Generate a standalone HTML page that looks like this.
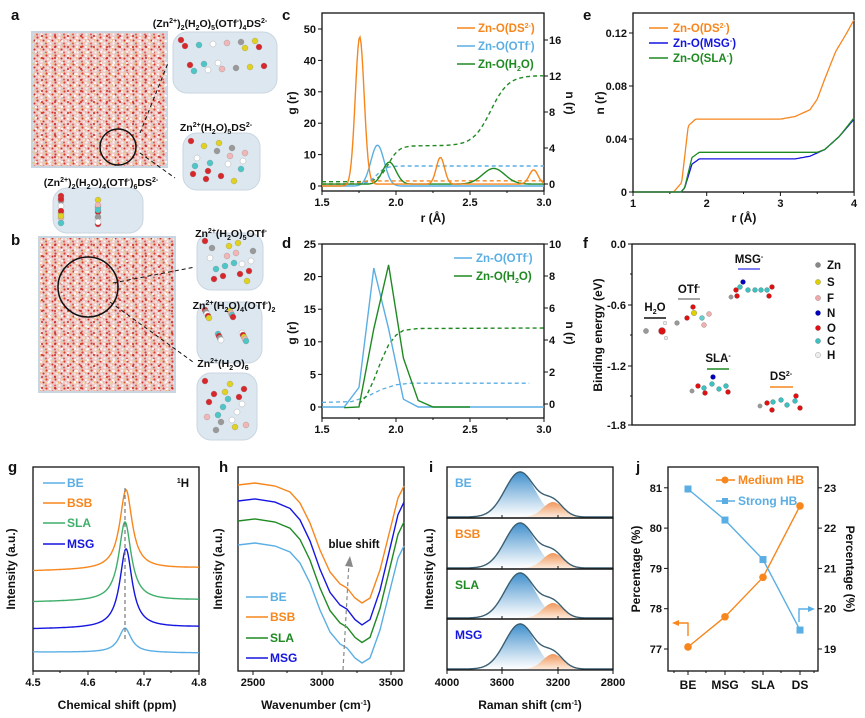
<!DOCTYPE html>
<html><head><meta charset="utf-8">
<style>
html,body{margin:0;padding:0;background:#fff;}
svg{display:block;font-family:"Liberation Sans",Arial,sans-serif;font-weight:bold;}
</style></head>
<body>
<svg id="s" width="865" height="718" viewBox="0 0 865 718" xmlns="http://www.w3.org/2000/svg">
<defs>
<pattern id="md" width="9" height="9" patternUnits="userSpaceOnUse">
<rect width="9" height="9" fill="#eec9c5"/>
<circle cx="1.5" cy="1.5" r="1.1" fill="#d83a36"/><circle cx="5" cy="2" r="1" fill="#fff"/>
<circle cx="7.5" cy="4.5" r="1" fill="#d0302c"/><circle cx="3" cy="5" r="0.9" fill="#f8f4f2"/>
<circle cx="1" cy="7.5" r="1" fill="#e25550"/><circle cx="5.5" cy="7.5" r="1.1" fill="#fbf6f4"/>
<circle cx="8" cy="1" r="0.6" fill="#e8c23a"/><circle cx="4.5" cy="4" r="0.5" fill="#f0a020"/>
<circle cx="8" cy="8" r="0.6" fill="#8cc"/>
</pattern>
<pattern id="md2" width="13" height="11" patternUnits="userSpaceOnUse">
<circle cx="3" cy="3" r="1.1" fill="#c9201f" opacity="0.8"/><circle cx="10" cy="8" r="1" fill="#fff"/><circle cx="7" cy="9" r="0.6" fill="#e0c020"/>
</pattern>
<linearGradient id="gb" x1="0" y1="0" x2="0" y2="1"><stop offset="0" stop-color="#3f8fcc"/><stop offset="1" stop-color="#ffffff" stop-opacity="0.9"/></linearGradient>
<linearGradient id="go" x1="0" y1="0" x2="0" y2="1"><stop offset="0" stop-color="#f0975a"/><stop offset="1" stop-color="#fde9da"/></linearGradient>
</defs>
<g id="root"></g>
</svg>
<script>
var R=document.getElementById('root'),H='';
function T(x,y,t,o){o=o||{};H+='<text x="'+x+'" y="'+y+'" font-size="'+(o.s||11)+'" fill="'+(o.c||'#111')+'" text-anchor="'+(o.a||'start')+'"'+(o.r?' transform="rotate('+o.r+' '+x+' '+y+')"':'')+'>'+t+'</text>';}
function L(x1,y1,x2,y2,c,w,d){H+='<line x1="'+x1+'" y1="'+y1+'" x2="'+x2+'" y2="'+y2+'" stroke="'+(c||'#111')+'" stroke-width="'+(w||1)+'"'+(d?' stroke-dasharray="'+d+'"':'')+'/>';}
function P(d,c,w,da,f){H+='<path d="'+d+'" fill="'+(f||'none')+'" stroke="'+(c||'none')+'" stroke-width="'+(w||1.3)+'"'+(da?' stroke-dasharray="'+da+'"':'')+'/>';}
function F(fn,x0,x1,st){var d='';for(var x=x0;x<=x1+1e-9;x+=st){d+=(d?'L':'M')+x.toFixed(1)+','+fn(x).toFixed(1);}return d;}
function PL(pts){return pts.map(function(p,i){return (i?'L':'M')+p[0].toFixed(1)+','+p[1].toFixed(1)}).join('');}
function box(x0,y0,x1,y1){H+='<rect x="'+x0+'" y="'+y0+'" width="'+(x1-x0)+'" height="'+(y1-y0)+'" fill="none" stroke="#111" stroke-width="1.3"/>';}
function G(x,m,s){return Math.exp(-(x-m)*(x-m)/(2*s*s));}
function S(x,m,w){return 1/(1+Math.exp(-(x-m)/w));}
var OR='#f7861d',LB='#5aaee3',GR='#1f8a22',BL='#1515e0',SG='#3fae6a';

/* ---------- a / b ---------- */
T(11,20,'a',{s:15});T(11,245,'b',{s:15});
H+='<rect x="32" y="32" width="135" height="135" fill="url(#md)" stroke="#c8d6e2" stroke-width="2"/><rect x="32" y="32" width="135" height="135" fill="url(#md2)"/>';
H+='<rect x="39" y="237" width="136" height="155" fill="url(#md)" stroke="#c8d6e2" stroke-width="2"/><rect x="39" y="237" width="136" height="155" fill="url(#md2)"/>';
H+='<circle cx="118" cy="147" r="18" fill="none" stroke="#111" stroke-width="1.5"/>';
H+='<circle cx="88" cy="287" r="30" fill="none" stroke="#111" stroke-width="1.5"/>';
L(140,133,168,63,'#111',1,'4,3');L(140,153,175,178,'#111',1,'4,3');
L(113,283,195,267,'#111',1,'4,3');L(110,302,193,362,'#111',1,'4,3');
function blob(x0,y0,x1,y1){H+='<rect x="'+x0+'" y="'+y0+'" width="'+(x1-x0)+'" height="'+(y1-y0)+'" rx="14" fill="#dde7ef" stroke="#c9d6e0"/>';
 var cols=['#d8262a','#fff','#e0d21e','#4cc6c6','#999','#d8262a','#f2b6b6'];
 for(var i=0;i<18;i++){var cx=x0+8+((i*37)%(x1-x0-16)),cy=y0+8+((i*23)%(y1-y0-16));H+='<circle cx="'+cx+'" cy="'+cy+'" r="3" fill="'+cols[i%7]+'" stroke="#888" stroke-width="0.3"/>';}}
blob(173,32,277,93);blob(183,133,260,190);blob(53,188,143,233);blob(197,233,263,290);blob(197,302,262,363);blob(197,373,257,440);
T(210,27,'(Zn<tspan font-size="7" dy="-4">2+</tspan><tspan dy="4">)</tspan><tspan font-size="7" dy="3">2</tspan><tspan dy="-3">(H</tspan><tspan font-size="7" dy="3">2</tspan><tspan dy="-3">O)</tspan><tspan font-size="7" dy="3">5</tspan><tspan dy="-3">(OTf</tspan><tspan font-size="7" dy="-4">-</tspan><tspan dy="4">)</tspan><tspan font-size="7" dy="3">4</tspan><tspan dy="-3">DS</tspan><tspan font-size="7" dy="-4">2-</tspan>',{a:'middle',s:10.5});
T(216,131,'Zn<tspan font-size="7" dy="-4">2+</tspan><tspan dy="4">(H</tspan><tspan font-size="7" dy="3">2</tspan><tspan dy="-3">O)</tspan><tspan font-size="7" dy="3">5</tspan><tspan dy="-3">DS</tspan><tspan font-size="7" dy="-4">2-</tspan>',{a:'middle',s:10.5});
T(101,186,'(Zn<tspan font-size="7" dy="-4">2+</tspan><tspan dy="4">)</tspan><tspan font-size="7" dy="3">2</tspan><tspan dy="-3">(H</tspan><tspan font-size="7" dy="3">2</tspan><tspan dy="-3">O)</tspan><tspan font-size="7" dy="3">4</tspan><tspan dy="-3">(OTf</tspan><tspan font-size="7" dy="-4">-</tspan><tspan dy="4">)</tspan><tspan font-size="7" dy="3">6</tspan><tspan dy="-3">DS</tspan><tspan font-size="7" dy="-4">2-</tspan>',{a:'middle',s:10.5});
T(231,237,'Zn<tspan font-size="7" dy="-4">2+</tspan><tspan dy="4">(H</tspan><tspan font-size="7" dy="3">2</tspan><tspan dy="-3">O)</tspan><tspan font-size="7" dy="3">5</tspan><tspan dy="-3">OTf</tspan><tspan font-size="7" dy="-4">-</tspan>',{a:'middle',s:10.5});
T(234,309,'Zn<tspan font-size="7" dy="-4">2+</tspan><tspan dy="4">(H</tspan><tspan font-size="7" dy="3">2</tspan><tspan dy="-3">O)</tspan><tspan font-size="7" dy="3">4</tspan><tspan dy="-3">(OTf</tspan><tspan font-size="7" dy="-4">-</tspan><tspan dy="4">)</tspan><tspan font-size="7" dy="3">2</tspan>',{a:'middle',s:10.5});
T(223,367,'Zn<tspan font-size="7" dy="-4">2+</tspan><tspan dy="4">(H</tspan><tspan font-size="7" dy="3">2</tspan><tspan dy="-3">O)</tspan><tspan font-size="7" dy="3">6</tspan>',{a:'middle',s:10.5});

/* ---------- c ---------- */
T(282,20,'c',{s:15});
var cx=function(r){return 322+(r-1.5)*148},cg=function(g){return 186-g*3.14},cn=function(n){return 184-n*9};
box(322,13,544,191);
[1.5,2,2.5,3].forEach(function(r){L(cx(r),191,cx(r),195);T(cx(r),206,r.toFixed(1),{a:'middle'});});
[1.75,2.25,2.75].forEach(function(r){L(cx(r),191,cx(r),193);});
[0,10,20,30,40,50].forEach(function(g){L(318,cg(g),322,cg(g));T(316,cg(g)+4,g,{a:'end'});});
[0,4,8,12,16].forEach(function(n){L(544,cn(n),548,cn(n));T(549,cn(n)+4,n);});
T(296,103,'g (r)',{r:-90,a:'middle',s:12});T(566,103,'n (r)',{r:90,a:'middle',s:12});T(433,222,'r (Å)',{a:'middle',s:12});
P(F(function(x){var r=1.5+(x-322)/148;return cn(0.25+4*S(r,1.95,0.035)+7.8*S(r,2.64,0.06));},322,544,1.5),GR,1.4,'4,3');
P(F(function(x){var r=1.5+(x-322)/148;return cn(2*S(r,1.87,0.03));},322,544,1.5),LB,1.4,'4,3');
P(F(function(x){var r=1.5+(x-322)/148;return cn(0.35*S(r,1.75,0.02));},322,544,1.5),OR,1.4,'4,3');
P(F(function(x){var r=1.5+(x-322)/148;return cg(13*G(r,1.875,0.045));},322,544,1),LB,1.4);
P(F(function(x){var r=1.5+(x-322)/148;return cg(0.6+7*G(r,1.955,0.045)+5*G(r,2.66,0.075));},322,544,1),GR,1.4);
P(F(function(x){var r=1.5+(x-322)/148;return cg(47.5*G(r,1.755,0.03)+0.6*S(r,1.8,0.01)+8.5*G(r,2.3,0.028)+4.5*G(r,2.93,0.03));},322,544,1),OR,1.4);
[[OR,'Zn-O(DS<tspan font-size="7" dy="-4">2-</tspan><tspan dy="4">)</tspan>',28],[LB,'Zn-O(OTf<tspan font-size="7" dy="-4">-</tspan><tspan dy="4">)</tspan>',46],[GR,'Zn-O(H<tspan font-size="7" dy="3">2</tspan><tspan dy="-3">O)</tspan>',64]].forEach(function(a){L(457,a[2],475,a[2],a[0],1.5);T(478,a[2]+4,a[1],{c:a[0],s:11.5});});

/* ---------- d ---------- */
T(282,248,'d',{s:15});
var dg=function(g){return 407-g*6.52},dn=function(n){return 404-n*16};
box(322,244,544,418);
[1.5,2,2.5,3].forEach(function(r){L(cx(r),418,cx(r),422);T(cx(r),433,r.toFixed(1),{a:'middle'});});
[1.75,2.25,2.75].forEach(function(r){L(cx(r),418,cx(r),420);});
[0,5,10,15,20,25].forEach(function(g){L(318,dg(g),322,dg(g));T(316,dg(g)+4,g,{a:'end'});});
[0,2,4,6,8,10].forEach(function(n){L(544,dn(n),548,dn(n));T(549,dn(n)+4,n);});
T(296,333,'g (r)',{r:-90,a:'middle',s:12});T(566,333,'n (r)',{r:90,a:'middle',s:12});
P(PL([[1.5,0.1],[1.7,0.15],[1.8,0.45],[1.9,0.9],[2.0,1.2],[2.1,1.3],[2.9,1.3]].map(function(p){return [cx(p[0]),dn(p[1])]})),LB,1.3,'4,3');
P(PL([[1.75,0],[1.8,0.5],[1.85,1.5],[1.9,2.7],[1.95,3.7],[2.0,4.3],[2.05,4.6],[2.15,4.72],[3.0,4.75]].map(function(p){return [cx(p[0]),dn(p[1])]})),GR,1.4,'4,3');
P(PL([[1.5,0],[1.65,0],[1.75,3],[1.85,21.3],[1.95,12],[2.05,1.2],[2.15,0],[3,0]].map(function(p){return [cx(p[0]),dg(p[1])]})),LB,1.4);
P(PL([[1.65,-0.1],[1.75,0],[1.85,12],[1.95,21.8],[2.05,7.5],[2.15,1],[2.25,0],[2.5,0]].map(function(p){return [cx(p[0]),dg(p[1])]})),GR,1.4);
[[LB,'Zn-O(OTf<tspan font-size="7" dy="-4">-</tspan><tspan dy="4">)</tspan>',258],[GR,'Zn-O(H<tspan font-size="7" dy="3">2</tspan><tspan dy="-3">O)</tspan>',276]].forEach(function(a){L(454,a[2],472,a[2],a[0],1.5);T(476,a[2]+4,a[1],{c:a[0],s:11.5});});

/* ---------- e ---------- */
T(583,20,'e',{s:15});
var ex=function(r){return 633+(r-1)*73.7},ey=function(n){return 192-n*1325};
box(633,13,854,192);
[1,2,3,4].forEach(function(r){L(ex(r),192,ex(r),196);T(ex(r),207,r,{a:'middle'});});
[1.5,2.5,3.5].forEach(function(r){L(ex(r),192,ex(r),194);});
[[0,'0'],[0.04,'0.04'],[0.08,'0.08'],[0.12,'0.12']].forEach(function(a){L(629,ey(a[0]),633,ey(a[0]));T(627,ey(a[0])+4,a[1],{a:'end'});});
T(604,103,'n (r)',{r:-90,a:'middle',s:12});T(744,222,'r (Å)',{a:'middle',s:12});
function sm(pts){return F(function(x){var r=1+(x-633)/73.7;for(var i=1;i<pts.length;i++){if(r<=pts[i][0]){var t=(r-pts[i-1][0])/(pts[i][0]-pts[i-1][0]);return ey(pts[i-1][1]+t*(pts[i][1]-pts[i-1][1]));}}return ey(pts[pts.length-1][1]);},633,854,1);}
P(sm([[1,0],[1.55,0],[1.66,0.007],[1.75,0.05],[1.85,0.055],[3.0,0.055],[3.2,0.057],[3.4,0.062],[3.5,0.07],[3.6,0.085],[3.75,0.106],[3.9,0.12],[4,0.13]]).replace(/^M[^L]*L/,'M'+ex(1.5)+','+ey(0)+'L'),OR,1.3);
P(sm([[1,0],[1.65,0],[1.7,0.003],[1.8,0.021],[1.9,0.025],[3.2,0.025],[3.4,0.027],[3.6,0.032],[3.8,0.042],[4,0.055]]).replace(/^M[^L]*L/,'M'+ex(1.6)+','+ey(0)+'L'),BL,1.3);
P(sm([[1,0],[1.65,0],[1.7,0.003],[1.8,0.026],[1.9,0.03],[3.5,0.03],[3.6,0.032],[3.8,0.042],[4,0.056]]).replace(/^M[^L]*L/,'M'+ex(1.6)+','+ey(0)+'L'),GR,1.3);
[[OR,'Zn-O(DS<tspan font-size="7" dy="-4">2-</tspan><tspan dy="4">)</tspan>',28],[BL,'Zn-O(MSG<tspan font-size="7" dy="-4">-</tspan><tspan dy="4">)</tspan>',43],[GR,'Zn-O(SLA<tspan font-size="7" dy="-4">-</tspan><tspan dy="4">)</tspan>',58]].forEach(function(a){L(649,a[2],668,a[2],a[0],1.5);T(673,a[2]+4,a[1],{c:a[0],s:11.5});});

/* ---------- f ---------- */
T(583,248,'f',{s:15});
box(632,244,855,425);
[[244,'0.0'],[305,'-0.6'],[366,'-1.2'],[425,'-1.8']].forEach(function(a){L(628,a[0],632,a[0]);T(626,a[0]+4,a[1],{a:'end'});});
[274,335,396].forEach(function(y){L(630,y,632,y);});
T(602,335,'Binding energy (eV)',{r:-90,a:'middle',s:12});
L(644,318,666,318,'#111',1.5);T(655,311,'H<tspan font-size="7" dy="3">2</tspan><tspan dy="-3">O</tspan>',{a:'middle',s:11.5});
L(678,299,700,299,'#888',1.5);T(689,293,'OTf<tspan font-size="7" dy="-4">-</tspan>',{a:'middle',s:11.5});
L(738,269,760,269,'#5555ee',1.5);T(749,263,'MSG<tspan font-size="7" dy="-4">-</tspan>',{a:'middle',s:11.5});
L(707,369,729,369,GR,1.5);T(718,362,'SLA<tspan font-size="7" dy="-4">-</tspan>',{a:'middle',s:11.5});
L(770,387,793,387,OR,1.5);T(781,380,'DS<tspan font-size="7" dy="-4">2-</tspan>',{a:'middle',s:11.5});
function at(x,y,c,r){H+='<circle cx="'+x+'" cy="'+y+'" r="'+(r||2.5)+'" fill="'+c+'" stroke="#666" stroke-width="0.3"/>';}
var Cc='#3cc0c0',Oc='#e01010',Hc='#eee';
at(646,331,'#999',2.6);at(662,331,'#dd1111',3.5);at(665,323,Hc,1.8);at(666,338,Hc,1.8);
at(677,323,'#999',2.4);at(687,318,Oc);at(694,313,'#e0d000',2.8);at(693,307,Oc);at(702,318,'#6cc');at(709,314,'#f0b0b0');at(704,325,'#f0b0b0');
at(731,297,'#999',2.2);[[736,290,Oc],[740,287,Cc],[743,282,'#0000c0'],[748,290,Cc],[755,290,Cc],[761,290,Cc],[767,290,Cc],[769,296,Oc],[772,287,Oc],[737,296,Oc]].forEach(function(a){at(a[0],a[1],a[2]);});
at(692,391,'#999',2.2);[[698,386,Oc],[704,388,Cc],[705,393,Oc],[712,384,Cc],[713,377,'#0000c0'],[719,389,Cc],[726,386,Cc],[728,392,Oc]].forEach(function(a){at(a[0],a[1],a[2]);});
at(760,406,'#999',2.2);[[767,403,Oc],[773,402,Cc],[772,410,Oc],[781,400,Cc],[787,405,Cc],[795,401,Cc],[796,396,Oc],[800,408,Oc]].forEach(function(a){at(a[0],a[1],a[2]);});
[['Zn','#888',265],['S','#e0d000',282],['F','#f0a8a8',298],['N','#0000c0',313],['O','#e01010',328],['C','#3cc0c0',341],['H','#eee',355]].forEach(function(a){at(818,a[2],a[1],2.6);T(827,a[2]+4,a[0],{s:11.5});});

/* ---------- g ---------- */
T(8,472,'g',{s:15});
box(33,467,199,671);
[[4.5,33],[4.6,88],[4.7,144],[4.8,199]].forEach(function(a){L(a[1],671,a[1],675);T(a[1],686,a[0].toFixed(1),{a:'middle'});});
[60,116,171].forEach(function(x){L(x,671,x,673);});
T(117,709,'Chemical shift (ppm)',{a:'middle',s:12});T(15,569,'Intensity (a.u.)',{r:-90,a:'middle',s:12});
function nmr(c,yl,yr,pk,x0){var A=(yl+yr)/2-pk;P(F(function(x){var b=yl+(yr-yl)*(x-33)/166;return b-A/(1+Math.pow((x-x0)/7.5,2))*1.04;},33,199,0.7),c,1.4);}
nmr(LB,652,653,629,125);nmr(BL,629,627,552,126);nmr(SG,602,600,525,125);nmr(OR,571,568,493,126);
L(125,488,125,642,'#777',1.2,'4,3');
T(183,487,'<tspan font-size="7" dy="-4">1</tspan><tspan dy="4">H</tspan>',{s:11.5,a:'middle'});
[[LB,'BE',483],[OR,'BSB',503],[SG,'SLA',523],[BL,'MSG',544]].forEach(function(a){L(43,a[2],65,a[2],a[0],1.5);T(67,a[2]+4,a[1],{c:a[0],s:12});});

/* ---------- h ---------- */
T(219,472,'h',{s:15});
box(238,467,404,671);
[[2500,253],[3000,322],[3500,391]].forEach(function(a){L(a[1],671,a[1],675);T(a[1],686,a[0],{a:'middle'});});
[287,357].forEach(function(x){L(x,671,x,673);});
T(316,709,'Wavenumber (cm<tspan font-size="7" dy="-4">-1</tspan><tspan dy="4">)</tspan>',{a:'middle',s:12});T(222,569,'Intensity (a.u.)',{r:-90,a:'middle',s:12});
var ho=[[238,485],[255,483],[275,486],[290,492],[300,503],[310,523],[320,550],[330,572],[340,584],[347,588],[355,598],[362,603],[370,598],[380,570],[390,530],[398,498],[404,486]];
function hc(off,k,c){P(PL(ho.map(function(p){return [p[0],p[1]+off+(p[1]-485)*k];})),c,1.4);}
hc(0,0,OR);hc(16,0.05,BL);hc(36,0.03,GR);hc(60,0.0,LB);
L(343,670,349,562,'#888',1.2,'4,3');P('M345,566 L350,556 L353,567 Z','none',1,null,'#888');
T(354,548,'blue shift',{a:'middle',s:11.5});
[[LB,'BE',597],[OR,'BSB',617],[GR,'SLA',638],[BL,'MSG',658]].forEach(function(a){L(246,a[2],268,a[2],a[0],1.5);T(270,a[2]+4,a[1],{c:a[0],s:12});});

/* ---------- i ---------- */
T(429,472,'i',{s:15});
[[467,518,'BE',LB],[518,569,'BSB',OR],[569,619,'SLA',GR],[619,670,'MSG',BL]].forEach(function(s){var b=s[1]-1;
 var m=function(x){return 45*G(x,520,15);},o=function(x){return 15*G(x,553,10);};
 P(F(function(x){return b-m(x);},447,613,1)+'L613,'+b+'L447,'+b+'Z','none',0,null,'url(#gb)');
 P(F(function(x){return b-o(x);},520,590,1)+'L590,'+b+'L520,'+b+'Z','none',0,null,'url(#go)');
 P(F(function(x){return b-m(x)-o(x);},447,613,1),'#3b5f72',1.4);
 box(447,s[0],613,s[1]);
 T(455,s[0]+20,s[2],{c:s[3],s:12});
 [502,558].forEach(function(x){L(x,s[1],x,s[1]-3);});});
[[4000,447],[3600,502],[3200,558],[2800,613]].forEach(function(a){L(a[1],670,a[1],674);T(a[1],686,a[0],{a:'middle'});});
T(530,709,'Raman shift (cm<tspan font-size="7" dy="-4">-1</tspan><tspan dy="4">)</tspan>',{a:'middle',s:12});T(433,569,'Intensity (a.u.)',{r:-90,a:'middle',s:12});

/* ---------- j ---------- */
T(636,472,'j',{s:15});
box(668,467,818,671);
var jy=function(v){return 649-(v-77)*40.3};
[77,78,79,80,81].forEach(function(v){L(664,jy(v),668,jy(v));T(662,jy(v)+4,v,{a:'end'});L(818,jy(v),822,jy(v));T(824,jy(v)+4,v-58);});
var jx=[688,725,763,800];
jx.forEach(function(x,i){L(x,671,x,675);T(x,689,['BE','MSG','SLA','DS'][i],{a:'middle',s:12});});
[674,706,744,781,814].forEach(function(x){L(x,671,x,673);});
T(640,569,'Percentage (%)',{r:-90,a:'middle',s:12});T(846,569,'Percentage (%)',{r:90,a:'middle',s:12});
var mh=[77.05,77.8,78.78,80.55],shv=[80.97,80.2,79.22,77.47];
P(PL(jx.map(function(x,i){return [x,jy(mh[i])]})),OR,1.4);P(PL(jx.map(function(x,i){return [x,jy(shv[i])]})),LB,1.4);
jx.forEach(function(x,i){H+='<circle cx="'+x+'" cy="'+jy(mh[i])+'" r="3.8" fill="'+OR+'"/>';H+='<rect x="'+(x-3.5)+'" y="'+(jy(shv[i])-3.5)+'" width="7" height="7" fill="'+LB+'"/>';});
L(716,480,735,480,OR,1.5);H+='<circle cx="725" cy="480" r="3.5" fill="'+OR+'"/>';T(738,484,'Medium HB',{c:OR,s:12});
L(716,501,735,501,LB,1.5);H+='<rect x="722" y="498" width="6" height="6" fill="'+LB+'"/>';T(738,505,'Strong HB',{c:LB,s:12});
P('M688,636 L688,623 L677,623',OR,1.4);P('M679,620 L672,623 L679,626 Z','none',1,null,OR);
P('M799,622 L799,609 L810,609',LB,1.4);P('M808,606 L815,609 L808,612 Z','none',1,null,LB);

R.innerHTML=H;
</script>
</body></html>
